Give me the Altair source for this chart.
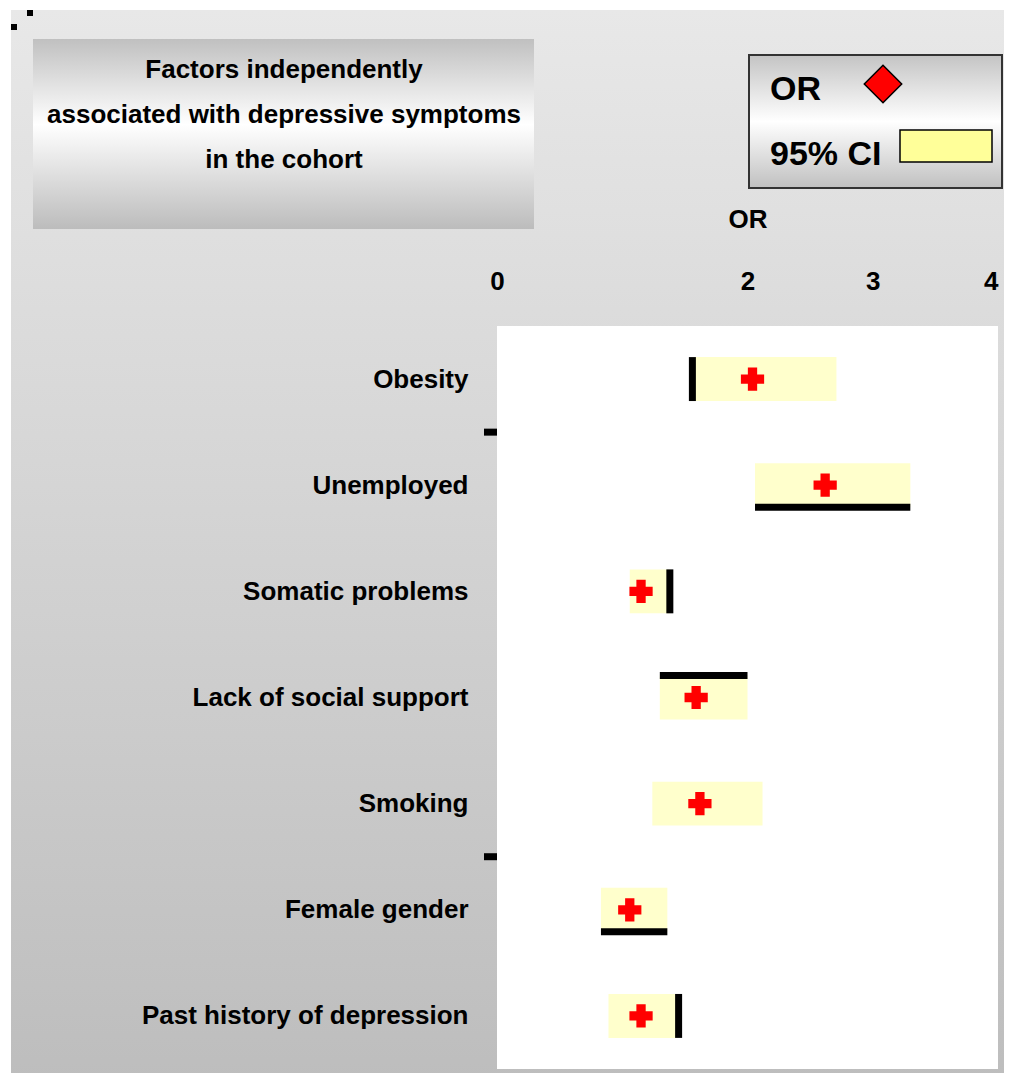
import json
import altair as alt
import pandas as pd

# ---- data ----
labels = ["Obesity", "Unemployed", "Somatic problems", "Lack of social support",
          "Smoking", "Female gender", "Past history of depression"]
odds = [2.04, 2.62, 1.15, 1.59, 1.62, 1.06, 1.15]
ci_low = [1.56, 2.06, 1.06, 1.30, 1.24, 0.83, 0.89]
ci_high = [2.71, 3.30, 1.38, 2.00, 2.12, 1.36, 1.45]
edges = ["left", "bottom", "right", "top", "none", "bottom", "right"]
x_ticks = [0, 2, 3, 4]
y_tick_marks = [1, 5]
title_lines = ["Factors independently", "associated with depressive symptoms", "in the cohort"]
axis_title = "OR"

df = pd.DataFrame({"label": labels, "idx": list(range(len(labels))), "OR": odds,
                   "lo": ci_low, "hi": ci_high, "edge": edges})

W, H = 501, 743
FONT = "Liberation Sans"
HALF = 0.207

one = pd.DataFrame({"k": [0]})

xscale = alt.Scale(domain=[0, 4], nice=False, zero=False)
yscale = alt.Scale(domain=[0, len(labels)], reverse=True, nice=False, zero=False)

label_expr = json.dumps(labels) + "[floor(datum.value)]"

x_axis = alt.Axis(orient="top", values=x_ticks, format="d", ticks=False, domain=False, grid=False,
                  labelFont=FONT, labelFontSize=26, labelFontWeight="bold", labelColor="black",
                  labelPadding=32, labelFlush=False,
                  labelAlign=alt.ExprRef(expr="datum.value == 4 ? 'right' : 'center'"),
                  title=axis_title, titleFont=FONT,
                  titleFontSize=26, titleFontWeight="bold", titleColor="black",
                  titlePadding=36, zindex=1)
y_axis = alt.Axis(values=[i + 0.5 for i in range(len(labels))], labelExpr=label_expr,
                  ticks=False, domain=False, grid=False, labelFont=FONT, labelFontSize=26,
                  labelFontWeight="bold", labelColor="black", labelPadding=29,
                  labelLimit=600, title=None, zindex=1)

def grad(stops):
    return alt.LinearGradient(gradient="linear",
                              stops=[alt.GradientStop(color=c, offset=o) for o, c in stops],
                              x1=0, x2=0, y1=0, y2=1)

# ---- decorations ----
bg = alt.Chart(one).mark_rect(fill=grad([(0, "#e8e8e8"), (1, "#bdbdbd")])).encode(
    x=alt.value(-486), x2=alt.value(W + 12), y=alt.value(-316), y2=alt.value(H + 17))
dots_df = pd.DataFrame({"px": [-467, -483], "py": [-313, -299]})
corner_dots = alt.Chart(dots_df).mark_square(size=36, color="black", opacity=1).encode(
    x=alt.X("px:Q", scale=None, axis=None), y=alt.Y("py:Q", scale=None, axis=None))
plot_bg = alt.Chart(one).mark_rect(fill="white").encode(
    x=alt.value(0), x2=alt.value(W), y=alt.value(0), y2=alt.value(H))
title_box = alt.Chart(one).mark_rect(
    fill=grad([(0, "#c0c0c0"), (0.45, "#ffffff"), (1, "#bcbcbc")])).encode(
    x=alt.value(-464), x2=alt.value(37), y=alt.value(-287), y2=alt.value(-97))
title_df = pd.DataFrame({"t": title_lines, "i": list(range(len(title_lines)))})
title_text = alt.Chart(title_df).mark_text(
    font=FONT, fontSize=26, fontWeight="bold", color="black", align="center",
    baseline="middle").transform_calculate(py="-256 + 45 * datum.i").encode(
    text="t:N", x=alt.value(-213), y=alt.Y("py:Q", scale=None, axis=None))

legend_box = alt.Chart(one).mark_rect(
    fill=grad([(0, "#c4c4c4"), (0.5, "#ffffff"), (1, "#c0c0c0")]),
    stroke="#333333", strokeWidth=2).encode(
    x=alt.value(252), x2=alt.value(505), y=alt.value(-271), y2=alt.value(-138))
leg_df = pd.DataFrame({"t": ["OR", "95% CI"], "py": [-236, -171]})
legend_text = alt.Chart(leg_df).mark_text(
    font=FONT, fontSize=34, fontWeight="bold", color="black", align="left",
    baseline="middle").encode(text="t:N", x=alt.value(273),
                              y=alt.Y("py:Q", scale=None, axis=None))
legend_diamond = alt.Chart(one).mark_point(
    shape="diamond", filled=True, fill="red", stroke="black", strokeWidth=1.5,
    size=1400, opacity=1).encode(x=alt.value(386), y=alt.value(-242))
legend_rect = alt.Chart(one).mark_rect(fill="#ffff99", stroke="black", strokeWidth=1.5).encode(
    x=alt.value(403), x2=alt.value(495), y=alt.value(-196), y2=alt.value(-164))

# small band-boundary tick marks on the left edge
ticks_df = pd.DataFrame({"yb": y_tick_marks})
left_ticks = alt.Chart(ticks_df).mark_rule(color="black", strokeWidth=7).encode(
    x=alt.value(-13), x2=alt.value(0), y=alt.Y("yb:Q", scale=yscale))

# ---- data layers ----
base = alt.Chart(df).transform_calculate(
    y0=f"datum.idx + 0.5 - {HALF}", y1=f"datum.idx + 0.5 + {HALF}", yc="datum.idx + 0.5")

bars = base.mark_rect(fill="#ffffcc").encode(
    x=alt.X("lo:Q", scale=xscale, axis=x_axis), x2="hi:Q",
    y=alt.Y("y0:Q", scale=yscale, axis=y_axis), y2="y1:Q")

rule_kw = dict(color="black", strokeWidth=7)
e_left = base.transform_filter("datum.edge == 'left'").mark_rule(**rule_kw).encode(
    x=alt.X("lo:Q", scale=xscale), y=alt.Y("y0:Q", scale=yscale), y2="y1:Q")
e_right = base.transform_filter("datum.edge == 'right'").mark_rule(**rule_kw).encode(
    x=alt.X("hi:Q", scale=xscale), y=alt.Y("y0:Q", scale=yscale), y2="y1:Q")
e_top = base.transform_filter("datum.edge == 'top'").mark_rule(**rule_kw).encode(
    x=alt.X("lo:Q", scale=xscale), x2="hi:Q", y=alt.Y("y0:Q", scale=yscale))
e_bottom = base.transform_filter("datum.edge == 'bottom'").mark_rule(**rule_kw).encode(
    x=alt.X("lo:Q", scale=xscale), x2="hi:Q", y=alt.Y("y1:Q", scale=yscale))

markers = base.mark_point(shape="cross", filled=True, fill="red", strokeWidth=0,
                          size=540, opacity=1).encode(
    x=alt.X("OR:Q", scale=xscale), y=alt.Y("yc:Q", scale=yscale))

chart = alt.layer(
    bg, corner_dots, plot_bg, title_box, title_text, legend_box, legend_text, legend_diamond,
    legend_rect, left_ticks, bars, e_left, e_right, e_top, e_bottom, markers
).properties(
    width=W, height=H,
    autosize=alt.AutoSizeParams(type="none"),
    padding={"left": 489, "top": 318, "right": 6, "bottom": 4},
).configure_view(stroke=None)

chart.save("out.html", embed_options={"renderer": "svg", "actions": False})
